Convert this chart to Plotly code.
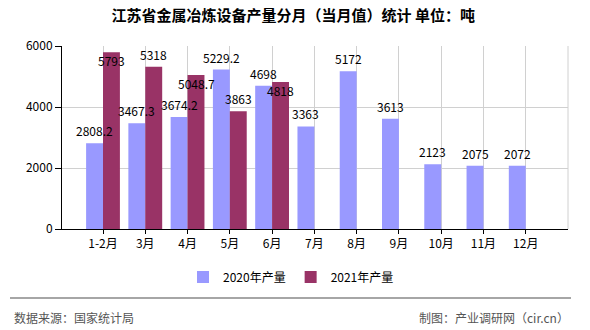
import plotly.graph_objects as go

categories = ["1-2月", "3月", "4月", "5月", "6月", "7月", "8月", "9月", "10月", "11月", "12月"]
values_2020 = [2808.2, 3467.3, 3674.2, 5229.2, 4698, 3363, 5172, 3613, 2123, 2075, 2072]
values_2021 = [5793, 5318, 5048.7, 3863, 4818, None, None, None, None, None, None]
label_text_2020 = ["2808.2", "3467.3", "3674.2", "5229.2", "4698", "3363", "5172", "3613", "2123", "2075", "2072"]
label_text_2021 = ["5793", "5318", "5048.7", "3863", "4818"]
# labels pushed below the bar top to avoid collisions (as in the reference)
below_2021 = [True, False, True, False, True]

W, H = 590, 330
L, R, T, B = 62, 22, 46, 101
PW, PH = W - L - R, H - T - B

def px_x(p):
    return (p - L) / PW

def px_y(p):
    return (H - B - p) / PH

FONT = "Noto Sans CJK SC, Noto Sans, sans-serif"

fig = go.Figure()
fig.add_trace(go.Bar(x=categories, y=values_2020, name="2020年产量",
                     marker=dict(color="#9999FF", line=dict(width=0))))
fig.add_trace(go.Bar(x=categories, y=values_2021, name="2021年产量",
                     marker=dict(color="#993366", line=dict(width=0))))

ann = []
for i, v in enumerate(values_2020):
    ann.append(dict(x=i - 0.2, y=v, xref="x", yref="y", text=label_text_2020[i],
                    showarrow=False, yanchor="middle", yshift=12.5,
                    font=dict(size=12, color="#000", family=FONT)))
for i, v in enumerate(values_2021):
    if v is None:
        continue
    ann.append(dict(x=i + 0.2, y=v, xref="x", yref="y", text=label_text_2021[i],
                    showarrow=False, yanchor="middle",
                    yshift=-8.5 if below_2021[i] else 12.5,
                    font=dict(size=12, color="#000", family=FONT)))

ann.append(dict(x=px_x(12), y=px_y(317), xref="paper", yref="paper",
                text="数据来源：国家统计局", showarrow=False, xanchor="left", yanchor="middle",
                font=dict(size=12, color="#555", family=FONT)))
ann.append(dict(x=px_x(571), y=px_y(317), xref="paper", yref="paper",
                text="制图：产业调研网（cir.cn）", showarrow=False, xanchor="right", yanchor="middle",
                font=dict(size=12, color="#555", family=FONT)))

shapes = [
    dict(type="line", xref="paper", yref="paper", x0=1, x1=1, y0=0, y1=1,
         line=dict(color="#d0d0d0", width=1)),
    dict(type="line", xref="paper", yref="paper", x0=px_x(10), x1=px_x(571),
         y0=px_y(298), y1=px_y(298), line=dict(color="#888", width=1.5)),
]

fig.update_layout(
    width=W, height=H,
    margin=dict(l=L, r=R, t=T, b=B),
    paper_bgcolor="white", plot_bgcolor="white",
    barmode="group", bargap=0.2, bargroupgap=0,
    title=dict(text="江苏省金属冶炼设备产量分月（当月值）统计 单位：吨",
               x=0.497, xref="container", xanchor="center",
               y=1 - 16 / H, yref="container", yanchor="middle",
               font=dict(size=15, color="#000", family=FONT, weight="bold")),
    font=dict(family=FONT, size=12, color="#000"),
    showlegend=True,
    legend=dict(orientation="h", x=px_x(291), xanchor="center", y=px_y(277), yanchor="middle",
                font=dict(size=12, color="#000", family=FONT), itemwidth=30,
                bgcolor="rgba(0,0,0,0)"),
    annotations=ann,
    shapes=shapes,
)
fig.update_xaxes(type="category", range=[-0.97, 11], showgrid=True, gridcolor="#d0d0d0",
                 gridwidth=1, showline=True, linecolor="#000", linewidth=1,
                 ticks="outside", ticklen=4, tickcolor="#000",
                 tickfont=dict(size=12, color="#000", family=FONT), zeroline=False)
fig.update_yaxes(range=[0, 6000], dtick=2000, showgrid=True, gridcolor="#d0d0d0", gridwidth=1,
                 showline=True, linecolor="#000", linewidth=1, ticks="outside", ticklen=6,
                 tickcolor="#000", tickfont=dict(size=12, color="#000", family=FONT),
                 zeroline=False)

fig.write_html("out.html")
